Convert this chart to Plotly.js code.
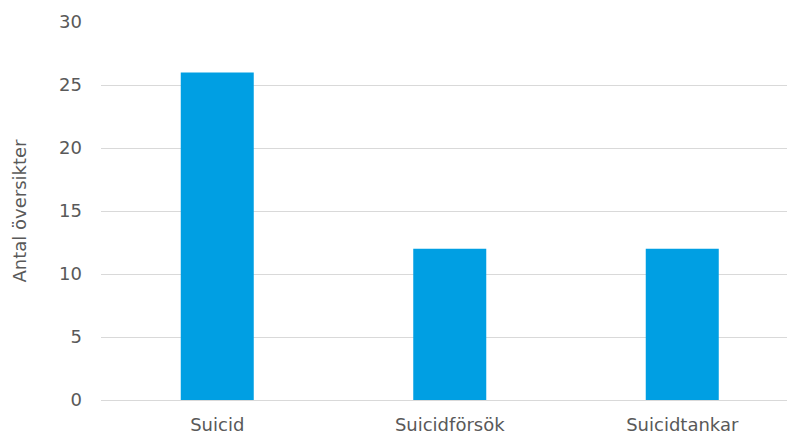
<!DOCTYPE html>
<html>
<head>
<meta charset="utf-8">
<script src="https://cdn.plot.ly/plotly-3.0.1.min.js"></script>
<style>
  html, body { margin: 0; padding: 0; background: #fff; }
  #chart { width: 787px; height: 436px; }
</style>
</head>
<body>
<div id="chart"></div>
<script>
// Antal översikter per kategori
const categories = ["Suicid", "Suicidförsök", "Suicidtankar"];
const counts = [26, 12, 12];
const yTicks = [0, 5, 10, 15, 20, 25, 30];

const textColor = "#595959";
const gridColor = "#d9d9d9";
const font = { family: "DejaVu Sans, Verdana, sans-serif", size: 18, color: textColor };

const trace = {
  type: "bar",
  x: categories,
  y: counts,
  width: 0.314,
  marker: { color: "#009fe3" },
  hoverinfo: "x+y"
};

const layout = {
  width: 787,
  height: 436,
  margin: { l: 101, r: 0, t: 22, b: 36 },
  paper_bgcolor: "#ffffff",
  plot_bgcolor: "#ffffff",
  font: font,
  showlegend: false,
  xaxis: {
    type: "category",
    range: [-0.5, 2.4505],
    showgrid: false,
    showline: false,
    zeroline: false,
    ticks: "",
    ticklabelstandoff: 12,
    tickfont: font,
    fixedrange: true
  },
  yaxis: {
    range: [0, 30],
    tickvals: yTicks,
    ticktext: yTicks.map(String),
    showgrid: true,
    gridcolor: gridColor,
    gridwidth: 1,
    zeroline: true,
    zerolinecolor: gridColor,
    zerolinewidth: 1,
    showline: false,
    ticks: "",
    ticklabelstandoff: 18,
    tickfont: font,
    title: { text: "Antal översikter", font: font, standoff: 27 },
    fixedrange: true
  }
};

Plotly.newPlot("chart", [trace], layout, { displayModeBar: false, staticPlot: true });
</script>
</body>
</html>
